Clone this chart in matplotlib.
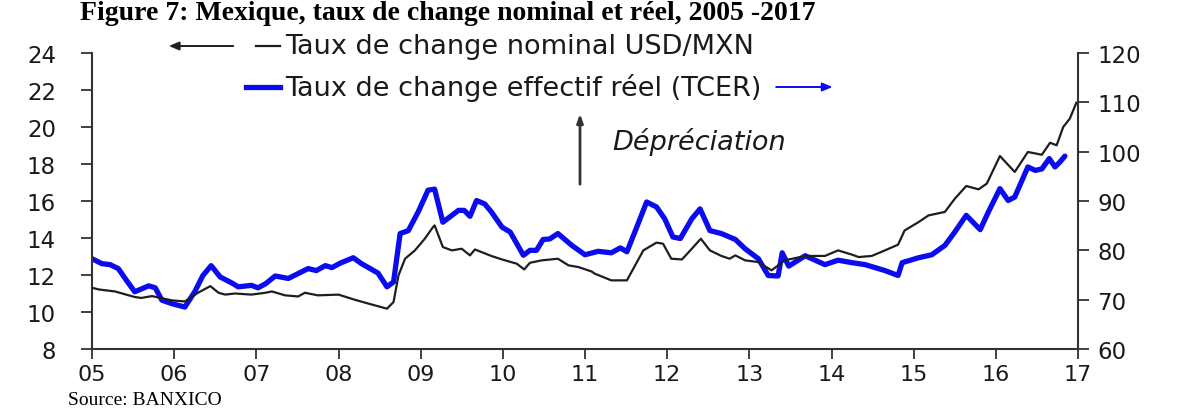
import matplotlib
matplotlib.use("Agg")
import matplotlib.pyplot as plt
from matplotlib.lines import Line2D
from matplotlib.patches import FancyArrowPatch

# ---- data (decimal year, value) ----
nominal_years = [2005.00, 2005.08, 2005.28, 2005.52, 2005.60, 2005.73, 2005.97, 2006.13,
                 2006.29, 2006.44, 2006.54, 2006.62, 2006.74, 2006.94, 2007.11, 2007.19,
                 2007.35, 2007.51, 2007.59, 2007.75, 2008.00, 2008.20, 2008.40, 2008.59,
                 2008.67, 2008.73, 2008.81, 2008.93, 2009.05, 2009.15, 2009.17, 2009.27,
                 2009.38, 2009.50, 2009.60, 2009.66, 2009.86, 2009.99, 2010.17, 2010.26,
                 2010.33, 2010.47, 2010.67, 2010.80, 2010.92, 2011.08, 2011.12, 2011.32,
                 2011.51, 2011.61, 2011.71, 2011.87, 2011.95, 2012.05, 2012.18, 2012.30,
                 2012.41, 2012.52, 2012.66, 2012.76, 2012.83, 2012.95, 2013.11, 2013.27,
                 2013.43, 2013.68, 2013.92, 2014.08, 2014.25, 2014.33, 2014.49, 2014.65,
                 2014.81, 2014.89, 2015.06, 2015.18, 2015.38, 2015.50, 2015.64, 2015.79,
                 2015.89, 2016.05, 2016.23, 2016.39, 2016.56, 2016.66, 2016.74, 2016.82,
                 2016.90, 2016.98]
nominal_usd_mxn = [11.31, 11.22, 11.11, 10.81, 10.76, 10.86, 10.63, 10.57,
                   11.04, 11.40, 11.04, 10.94, 11.00, 10.94, 11.04, 11.11,
                   10.90, 10.84, 11.04, 10.90, 10.94, 10.66, 10.41, 10.18,
                   10.54, 11.98, 12.88, 13.33, 13.96, 14.59, 14.68, 13.51,
                   13.33, 13.42, 13.06, 13.38, 13.03, 12.84, 12.61, 12.30,
                   12.66, 12.79, 12.88, 12.52, 12.43, 12.19, 12.07, 11.71,
                   11.71, 12.52, 13.33, 13.75, 13.69, 12.88, 12.84, 13.42,
                   13.96, 13.33, 13.03, 12.88, 13.06, 12.79, 12.70, 12.25,
                   12.79, 13.03, 13.03, 13.33, 13.10, 12.97, 13.03, 13.33,
                   13.64, 14.41, 14.86, 15.22, 15.41, 16.12, 16.81, 16.63,
                   16.94, 18.43, 17.57, 18.65, 18.50, 19.15, 19.01, 20.00,
                   20.45, 21.31]

tcer_years = [2005.00, 2005.12, 2005.22, 2005.32, 2005.42, 2005.52, 2005.69, 2005.77,
              2005.85, 2005.97, 2006.13, 2006.25, 2006.35, 2006.45, 2006.56, 2006.70,
              2006.78, 2006.94, 2007.02, 2007.11, 2007.23, 2007.39, 2007.63, 2007.73,
              2007.84, 2007.92, 2008.02, 2008.18, 2008.28, 2008.48, 2008.59, 2008.67,
              2008.75, 2008.85, 2008.97, 2009.09, 2009.17, 2009.27, 2009.46, 2009.53,
              2009.60, 2009.68, 2009.78, 2009.86, 2009.99, 2010.09, 2010.25, 2010.33,
              2010.41, 2010.49, 2010.57, 2010.67, 2010.84, 2011.00, 2011.16, 2011.32,
              2011.43, 2011.51, 2011.63, 2011.75, 2011.87, 2011.97, 2012.07, 2012.16,
              2012.30, 2012.40, 2012.52, 2012.66, 2012.83, 2012.95, 2013.11, 2013.23,
              2013.35, 2013.40, 2013.48, 2013.68, 2013.92, 2014.08, 2014.25, 2014.41,
              2014.65, 2014.81, 2014.86, 2015.06, 2015.22, 2015.38, 2015.50, 2015.64,
              2015.81, 2015.91, 2016.05, 2016.15, 2016.23, 2016.39, 2016.48, 2016.56,
              2016.65, 2016.72, 2016.78, 2016.84]
tcer_index = [78.3, 77.3, 77.1, 76.3, 73.9, 71.6, 72.8, 72.4,
              69.9, 69.2, 68.5, 71.6, 74.9, 76.9, 74.6, 73.4,
              72.6, 72.9, 72.4, 73.2, 74.8, 74.3, 76.3, 75.9,
              76.9, 76.5, 77.4, 78.5, 77.3, 75.4, 72.6, 73.6,
              83.4, 84.0, 87.8, 92.2, 92.4, 85.7, 88.1, 88.1,
              86.9, 90.1, 89.4, 87.8, 84.7, 83.7, 79.0, 80.0,
              80.0, 82.2, 82.3, 83.4, 81.0, 79.1, 79.8, 79.5,
              80.5, 79.7, 84.7, 89.8, 88.8, 86.4, 82.7, 82.4,
              86.4, 88.4, 84.0, 83.4, 82.2, 80.3, 78.3, 74.9,
              74.8, 79.5, 76.8, 78.9, 77.1, 78.0, 77.5, 77.1,
              75.9, 74.9, 77.5, 78.5, 79.1, 81.0, 83.7, 87.1,
              84.2, 87.8, 92.5, 90.1, 90.8, 96.9, 96.2, 96.5,
              98.6, 96.9, 97.9, 99.1]

year_ticks = list(range(2005, 2018))
year_labels = ["05", "06", "07", "08", "09", "10", "11", "12", "13", "14", "15", "16", "17"]
left_ticks = [8, 10, 12, 14, 16, 18, 20, 22, 24]
right_ticks = [60, 70, 80, 90, 100, 110, 120]

title = "Figure 7: Mexique, taux de change nominal et réel, 2005 -2017"
label_nominal = "Taux de change nominal USD/MXN"
label_tcer = "Taux de change effectif réel (TCER)"
note = "Dépréciation"
source = "Source: BANXICO"

# ---- figure ----
W, H = 1188, 410
fig = plt.figure(figsize=(W / 100, H / 100), dpi=100)
fig.patch.set_facecolor("white")


def fx(x):
    return x / W


def fy(y):
    return 1 - y / H


ax = fig.add_axes([fx(92), fy(350), fx(1078) - fx(92), fy(54) - fy(350)])
ax2 = ax.twinx()

BLACK = "#1e1e1e"
BLUE = "#0b0bef"
SPINE = "#333333"

ax.plot(nominal_years, nominal_usd_mxn, color=BLACK, lw=1.6, zorder=3)
ax2.plot(tcer_years, tcer_index, color=BLUE, lw=3.8, solid_capstyle="round",
         solid_joinstyle="round", zorder=2)
ax.set_zorder(ax2.get_zorder() + 1)
ax.patch.set_visible(False)

ax.set_xlim(2005, 2017)
ax.set_ylim(8, 24)
ax2.set_ylim(60, 120)

ax.set_xticks(year_ticks)
ax.set_xticklabels(year_labels)
ax.set_yticks(left_ticks)
ax2.set_yticks(right_ticks)

for a in (ax, ax2):
    a.spines["top"].set_visible(False)
    for s in ("left", "right", "bottom"):
        a.spines[s].set_color(SPINE)
        a.spines[s].set_linewidth(1.5)
    a.tick_params(direction="out", length=8, width=1.3, color=SPINE,
                  labelsize=16.5, labelcolor="#1a1a1a", pad=6)
ax.tick_params(axis="y", pad=18)
ax.tick_params(axis="x", length=7, pad=4, labelsize=16)
for lab in ax.get_xticklabels() + ax.get_yticklabels() + ax2.get_yticklabels():
    lab.set_fontfamily("DejaVu Sans")
ax.spines["right"].set_visible(False)
ax2.spines["left"].set_visible(False)
ax2.spines["bottom"].set_visible(False)

# ---- title & source ----
fig.text(fx(80), fy(13), title, family="Liberation Serif", weight="bold",
         size=20, ha="left", va="center", color="black")
fig.text(fx(68), fy(409), source, family="Liberation Serif", size=14,
         ha="left", va="bottom", color="black")

# ---- custom legend ----
fig.add_artist(Line2D([fx(256), fx(280)], [fy(47), fy(47)], color=BLACK, lw=1.6,
                      transform=fig.transFigure))
fig.text(fx(285), fy(47), label_nominal, family="DejaVu Sans", size=19.5,
         ha="left", va="center", color="#1a1a1a")
fig.add_artist(Line2D([fx(246), fx(280)], [fy(88), fy(88)], color=BLUE, lw=3.8,
                      transform=fig.transFigure))
t_tcer = fig.text(fx(285), fy(88), label_tcer, family="DejaVu Sans", size=19.5,
                  ha="left", va="center", color="#1a1a1a")

fig.add_artist(FancyArrowPatch(
    (fx(236), fy(47)), (fx(166), fy(47)), transform=fig.transFigure,
    arrowstyle="-|>,head_length=6,head_width=2.5", color=BLACK, lw=1.4))

# blue arrow placed just after the TCER label
fig.canvas.draw()
bb = t_tcer.get_window_extent(renderer=fig.canvas.get_renderer())
x0 = bb.x1 / W + fx(12)
fig.add_artist(FancyArrowPatch(
    (x0, fy(88)), (x0 + fx(62), fy(88)), transform=fig.transFigure,
    arrowstyle="-|>,head_length=6,head_width=2.5", color=BLUE, lw=1.4))

# depreciation note
fig.add_artist(FancyArrowPatch(
    (fx(580), fy(188)), (fx(580), fy(112)), transform=fig.transFigure,
    arrowstyle="-|>,head_length=5,head_width=1.8", color="#333333", lw=2.0))
fig.text(fx(612), fy(142), note, family="DejaVu Sans", style="italic", size=19.5,
         ha="left", va="center", color="#1a1a1a")

fig.savefig("out.png", dpi=100, facecolor="white")
